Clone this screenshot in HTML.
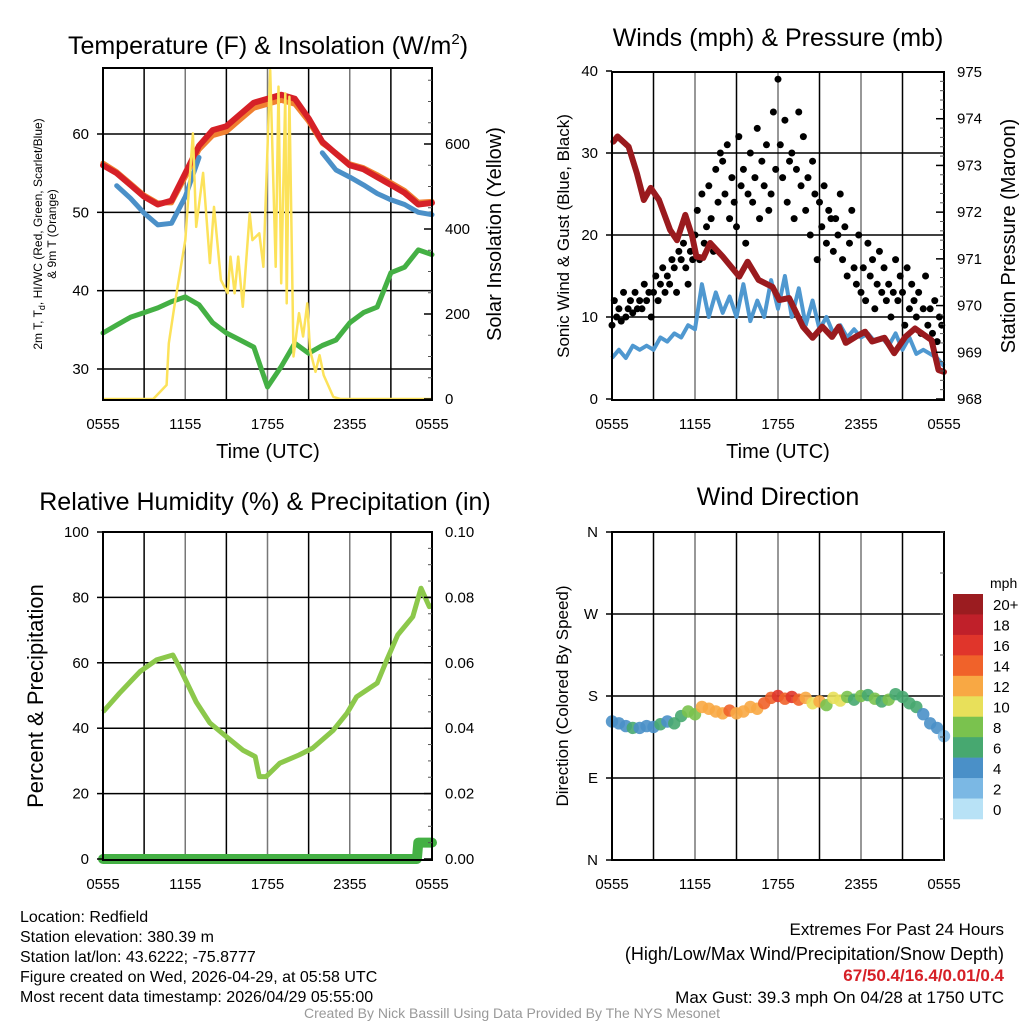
<!DOCTYPE html>
<html><head><meta charset="utf-8">
<style>
html,body{margin:0;padding:0;background:#fff;}
svg{display:block;font-family:"Liberation Sans",sans-serif;}
</style></head>
<body>
<svg id="chart" width="1024" height="1024" viewBox="0 0 1024 1024" xmlns="http://www.w3.org/2000/svg">
<defs><clipPath id="clip1"><rect x="103" y="68" width="329" height="332"/></clipPath></defs>
<rect width="1024" height="1024" fill="#fff"/>
<g id="g1"></g>
<g id="g2"></g>
<g id="g3"></g>
<g id="g4"></g>

<text x="268" y="54" font-size="25" text-anchor="middle">Temperature (F) &amp; Insolation (W/m<tspan font-size="15" dy="-10">2</tspan><tspan dy="10">)</tspan></text>
<text x="778" y="46" font-size="25" text-anchor="middle">Winds (mph) &amp; Pressure (mb)</text>
<text x="265" y="510" font-size="25" text-anchor="middle">Relative Humidity (%) &amp; Precipitation (in)</text>
<text x="778" y="505" font-size="25" text-anchor="middle">Wind Direction</text>

<text x="268" y="458" font-size="20" text-anchor="middle">Time (UTC)</text>
<text x="778" y="458" font-size="20" text-anchor="middle">Time (UTC)</text>

<text transform="translate(42,234) rotate(-90)" font-size="12" text-anchor="middle">2m T, T<tspan font-size="9" dy="3">d</tspan><tspan dy="-3">, HI/WC (Red, Green, Scarlet/Blue)</tspan></text>
<text transform="translate(56,234) rotate(-90)" font-size="12" text-anchor="middle">&amp; 9m T (Orange)</text>
<text transform="translate(501,234) rotate(-90)" font-size="20" text-anchor="middle">Solar Insolation (Yellow)</text>
<text transform="translate(569,236) rotate(-90)" font-size="17" text-anchor="middle">Sonic Wind &amp; Gust (Blue, Black)</text>
<text transform="translate(1015,236) rotate(-90)" font-size="20" text-anchor="middle">Station Pressure (Maroon)</text>
<text transform="translate(43,696) rotate(-90)" font-size="22" text-anchor="middle">Percent &amp; Precipitation</text>
<text transform="translate(568,696) rotate(-90)" font-size="17" text-anchor="middle">Direction (Colored By Speed)</text>
<text x="990" y="588" font-size="14">mph</text>

<g font-size="16">
<text x="20" y="922">Location: Redfield</text>
<text x="20" y="942">Station elevation: 380.39 m</text>
<text x="20" y="962">Station lat/lon: 43.6222; -75.8777</text>
<text x="20" y="982">Figure created on Wed, 2026-04-29, at 05:58 UTC</text>
<text x="20" y="1002">Most recent data timestamp: 2026/04/29 05:55:00</text>
</g>
<g text-anchor="end">
<text x="1004" y="935" font-size="17">Extremes For Past 24 Hours</text>
<text x="1004" y="960" font-size="18">(High/Low/Max Wind/Precipitation/Snow Depth)</text>
<text x="1004" y="981" font-size="17" font-weight="bold" fill="#d62027">67/50.4/16.4/0.01/0.4</text>
<text x="1004" y="1003" font-size="17">Max Gust: 39.3 mph On 04/28 at 1750 UTC</text>
</g>
<text x="512" y="1018" font-size="14" fill="#999" text-anchor="middle">Created By Nick Bassill Using Data Provided By The NYS Mesonet</text>
</svg>
<script>
// ---- data ----
const hours = [0,1,2,3,4,5,6,7,8,9,10,11,12,13,14,15,16,17,18,19,20,21,22,23,24];
const tempRed = [56,55,53.5,52,51,51.5,55,58.5,60.5,61,62.5,64,64.5,65,64.5,62,59,57.5,56,55.5,54.5,53.5,52.5,51,51.2];
const temp9m = [56.3,55.2,53.7,52.2,51.2,51.2,54.5,58,59.8,60.3,61.8,63.3,63.8,64.3,63.8,61.6,58.8,57.6,56.2,55.7,54.8,53.8,52.8,51.3,51.4];
const heatIdx = [null,53.4,51.8,49.9,48.4,48.6,52,57,null,null,null,null,null,null,null,null,57.6,55.4,54.5,53.5,52.4,51.6,51,50,49.7];
const dewpt = [34.6,35.6,36.6,37.2,37.8,38.6,39.2,38.2,35.9,34.6,33.7,32.8,27.7,30.3,33.3,32,33,33.7,35.9,37.2,37.9,42.3,43,45.2,44.6];
const insTimes = [0,3.67,4.64,4.8,5.2,6.0,6.56,6.8,7.3,7.8,8.1,8.6,9.1,9.3,9.6,9.86,10.2,10.7,10.9,11.4,11.7,12.2,12.6,12.8,13.0,13.3,13.4,13.6,13.9,14.3,14.6,14.9,15.1,15.5,15.8,16.1,16.8,17.3,24];
const insVals = [0,0,33,131,217,374,625,405,532,320,452,280,249,335,249,335,217,437,374,390,311,774,311,735,272,719,225,711,100,202,147,225,115,64,103,56,5,0,0];

const halfHours = [0,0.5,1,1.5,2,2.5,3,3.5,4,4.5,5,5.5,6,6.5,7,7.5,8,8.5,9,9.5,10,10.5,11,11.5,12,12.5,13,13.5,14,14.5,15,15.5,16,16.5,17,17.5,18,18.5,19,19.5,20,20.5,21,21.5,22,22.5,23,23.5,24];
const windSpd = [5,6,5,6.5,6,6.5,6,7.5,7,8,7.5,9,8.5,14,10,13,10.5,12.5,10,14,9.5,12,10,14.5,11,15,10,13.5,9,12,8.5,10,8,9,7.5,8.5,7.5,8,7,7.5,6.5,8,6,7.5,5.5,6,5.5,5,4];
const gusts = [9,12,10,11,9.5,13, 10,11,12,10.5,13,11, 12,11,14,12,13,10, 13,15,12,14,16,13, 15,14,17,16,13,18, 17,19,16,14,18,17, 20,23,17,25,19,21, 26,22,18,28,24,30, 29,25,31,22,27,24, 21,32,26,28,19,25, 30,24,27,33,22,29, 26,31,23,25,35,28, 39,31,27,34,24,29, 30,22,28,35,26,32, 23,27,20,29,25,17, 24,21,26,19,23,22, 18,22,20,25,17,21, 15,19,23,16,14,20, 13,16,12,19,15,17, 11,14,18,13,16,12, 14,10,13,17,12,15, 13,9,16,11,14,12, 10,13,8,11,15,9, 11,8,12,7,10,9];
const presTimes = [0.1,0.4,1.2,1.8,2.3,2.8,3.4,4.2,4.7,5.3,5.8,6.1,6.6,7.1,8.0,9.2,9.8,10.6,11.6,12.1,12.8,13.8,14.5,15.2,15.9,16.4,16.9,17.6,18.3,18.8,19.7,20.4,21.2,21.9,23.1,23.6,24];
const presVals = [973.51,973.62,973.40,972.83,972.26,972.52,972.26,971.62,971.40,971.94,971.48,971.05,971.02,971.34,971.05,970.62,970.94,970.55,970.40,970.12,970.16,969.55,969.31,969.55,969.33,969.55,969.2,969.33,969.44,969.23,969.31,968.98,969.33,969.51,969.26,968.62,968.58];

const rhTimes = [0,1.2,2.7,3.9,5.1,5.6,6.8,7.8,9.0,10.2,11.1,11.4,11.9,12.9,14.3,15.3,16.8,17.8,18.5,20.0,20.7,21.5,22.6,23.2,23.8,24];
const rhVals = [45,50.7,57.3,60.9,62.4,58.4,48,41.6,37.4,33.3,31.3,25.2,25.2,29.3,31.8,33.9,39.4,44.6,49.6,53.8,60.9,68.5,74.1,82.8,77.2,77.5];
const precipTimes = [0,22.9,23.0,23.3,24];
const precipVals = [0,0,0.005,0.005,0.005];

const dirDeg = [152,150,147,145,145,147,146,149,152,150,158,163,160,168,166,163,161,164,161,163,168,166,172,178,180,177,179,176,178,172,174,170,178,175,179,176,180,181,177,174,176,182,179,172,168,160,150,145,136];
const dirSpd = [4,5,4,6,5,4,5,6,5,6,7,8,8,13,12,13,12,14,12,13,12,13,14,15,16,14,17,15,13,10,12,9,11,10,8,7,8,7,8,7,8,7,6,7,6,5,4,4,3];
const cbLabels = ["20+","18","16","14","12","10","8","6","4","2","0"];
const cbColors = ["#9b1c20","#c0202a","#e0352b","#f0622a","#f8a844","#e8e05a","#7ac24e","#47a870","#4a90c8","#7bb8e4","#b8e2f6"];
const xTickLabels = ["0555","1155","1755","2355","0555"];

// ---- helpers ----
const NS = "http://www.w3.org/2000/svg";
function mk(parent, tag, attrs){ const e=document.createElementNS(NS,tag); for(const k in attrs) e.setAttribute(k,attrs[k]); parent.appendChild(e); return e; }
function lin(d0,d1,r0,r1){ return v => r0 + (v-d0)*(r1-r0)/(d1-d0); }
function pathFrom(xs, ys, xf, yf){ let d="", pen=false; for(let i=0;i<xs.length;i++){ if(ys[i]===null){pen=false;continue;} d += (pen?"L":"M")+xf(xs[i]).toFixed(1)+","+yf(ys[i]).toFixed(1); pen=true;} return d; }

function frame(g, L, T, R, B, xf, hGridYs){
  for(let h=3; h<24; h+=3){
    const gl = mk(g,"line",{x1:xf(h),x2:xf(h),y1:T,y2:B,stroke:(h%6===0)?"#777":"#000","stroke-width":1.5});
    
    
  }
  hGridYs.forEach(y=>{
    const gl = mk(g,"line",{x1:L,x2:R,y1:y,y2:y,stroke:"#000","stroke-width":1.5});
    
    
  });
  for(let i=0;i<5;i++){
    const t = mk(g,"text",{x:xf(i*6),y:B+29,"font-size":15,"text-anchor":"middle"});
    t.textContent = xTickLabels[i];
    
    
  }
}
function border(g,L,T,R,B){
  const r = mk(g,"rect",{x:L,y:T,width:R-L,height:B-T,fill:"none",stroke:"#000","stroke-width":2});
  
  
}
function leftTicks(g, L, vals, yf, labels){
  vals.forEach((v,i)=>{
    mk(g,"line",{x1:L-6,x2:L,y1:yf(v),y2:yf(v),stroke:"#000","stroke-width":1.5});
    const t = mk(g,"text",{x:L-14,y:yf(v)+5,"font-size":15,"text-anchor":"end"});
    t.textContent = labels[i];
    
    
  });
}
function rightTicks(g, R, vals, yf, labels, minorStep, dmin, dmax){
  if(minorStep){ for(let v=dmin; v<=dmax+1e-9; v+=minorStep) mk(g,"line",{x1:R-4,x2:R,y1:yf(v),y2:yf(v),stroke:"#555","stroke-width":1}); }
  vals.forEach((v,i)=>{
    mk(g,"line",{x1:R-8,x2:R,y1:yf(v),y2:yf(v),stroke:"#000","stroke-width":1.5});
    const t = mk(g,"text",{x:R+13,y:yf(v)+5,"font-size":15});
    t.textContent = labels[i];
    
    
  });
}

// ---- Panel 1 ----
(function(){
  const g=document.getElementById("g1"), L=103,T=68,R=432,B=400;
  const x=lin(0,24,L,R), y=lin(30,60,369,134), yi=lin(0,600,399,144);
  frame(g,L,T,R,B,x,[y(30),y(40),y(50),y(60)]);
  const series=[[hours,tempRed,"#d62027",6,"red-temperature-line"],[hours,temp9m,"#f08030",5,"orange-9m-temperature-line"],[hours,heatIdx,"#4b90c8",5,"blue-heat-index-line"],[hours,dewpt,"#44b044",5,"green-dewpoint-line"]];
  const order=[1,0,2,3];
  order.forEach(i=>{ const s=series[i];
    const p=mk(g,"path",{d:pathFrom(s[0],s[1],x,y),fill:"none",stroke:s[2],"stroke-width":s[3],"stroke-linejoin":"round","stroke-linecap":"round"});
    
    
  });
  const ip=mk(g,"path",{d:pathFrom(insTimes,insVals,x,yi),fill:"none",stroke:"#fce25a","stroke-width":2.5,"stroke-linejoin":"round","clip-path":"url(#clip1)"});
  
  
  border(g,L,T,R,B);
  leftTicks(g,L,[30,40,50,60],y,["30","40","50","60"]);
  rightTicks(g,R,[0,200,400,600],yi,["0","200","400","600"],50,0,750);
})();

// ---- Panel 2 ----
(function(){
  const g=document.getElementById("g2"), L=612,T=72,R=944,B=400;
  const x=lin(0,24,L,R), y=lin(0,40,399,71), yp=lin(968,975,399,72);
  frame(g,L,T,R,B,x,[y(10),y(20),y(30)]);
  const wp=mk(g,"path",{d:pathFrom(halfHours,windSpd,x,y),fill:"none",stroke:"#4f98d0","stroke-width":4,"stroke-linejoin":"round"});
  
  
  gusts.forEach((v,i)=>{
    const c=mk(g,"circle",{cx:x(i/6),cy:y(v),r:3.5,fill:"#000"});
    
    
  });
  const pp=mk(g,"path",{d:pathFrom(presTimes,presVals,x,yp),fill:"none",stroke:"#9a1a1e","stroke-width":6,"stroke-linejoin":"round","stroke-linecap":"round"});
  
  
  border(g,L,T,R,B);
  leftTicks(g,L,[0,10,20,30,40],y,["0","10","20","30","40"]);
  rightTicks(g,R,[968,969,970,971,972,973,974,975],yp,["968","969","970","971","972","973","974","975"],0.2,968,975);
})();

// ---- Panel 3 ----
(function(){
  const g=document.getElementById("g3"), L=103,T=532,R=432,B=860;
  const x=lin(0,24,L,R), y=lin(0,100,859,532), yr=lin(0,0.1,859,532);
  frame(g,L,T,R,B,x,[y(20),y(40),y(60),y(80)]);
  const rp=mk(g,"path",{d:pathFrom(rhTimes,rhVals,x,y),fill:"none",stroke:"#8cc84b","stroke-width":5,"stroke-linejoin":"round"});
  
  
  const pp=mk(g,"path",{d:pathFrom(precipTimes,precipVals,x,yr),fill:"none",stroke:"#44b044","stroke-width":10,"stroke-linejoin":"round","stroke-linecap":"round"});
  
  
  border(g,L,T,R,B);
  leftTicks(g,L,[0,20,40,60,80,100],y,["0","20","40","60","80","100"]);
  rightTicks(g,R,[0,0.02,0.04,0.06,0.08,0.1],yr,["0.00","0.02","0.04","0.06","0.08","0.10"],0.005,0,0.1);
})();

// ---- Panel 4 ----
(function(){
  const g=document.getElementById("g4"), L=612,T=532,R=944,B=860;
  const x=lin(0,24,L,R), y=lin(0,360,860,532);
  frame(g,L,T,R,B,x,[y(90),y(180),y(270)]);
  dirDeg.forEach((d,i)=>{
    const idx=Math.max(0,Math.min(10,Math.floor(dirSpd[i]/2)));
    const c=mk(g,"circle",{cx:x(halfHours[i]),cy:y(d),r:6.2,fill:cbColors[10-idx],"fill-opacity":0.9});
    
    
  });
  border(g,L,T,R,B);
  leftTicks(g,L,[0,90,180,270,360],y,["N","E","S","W","N"]);
  rightTicks(g,R,[],y,[],45,0,360);
  const h=225/11;
  cbLabels.forEach((lab,i)=>{
    const r=mk(g,"rect",{x:953,y:594+i*h,width:30,height:h+0.3,fill:cbColors[i]});
    
    
    const t=mk(g,"text",{x:993,y:594+i*h+h/2+6,"font-size":15});
    t.textContent=lab;
    
    
  });
})();
</script>
</body></html>
